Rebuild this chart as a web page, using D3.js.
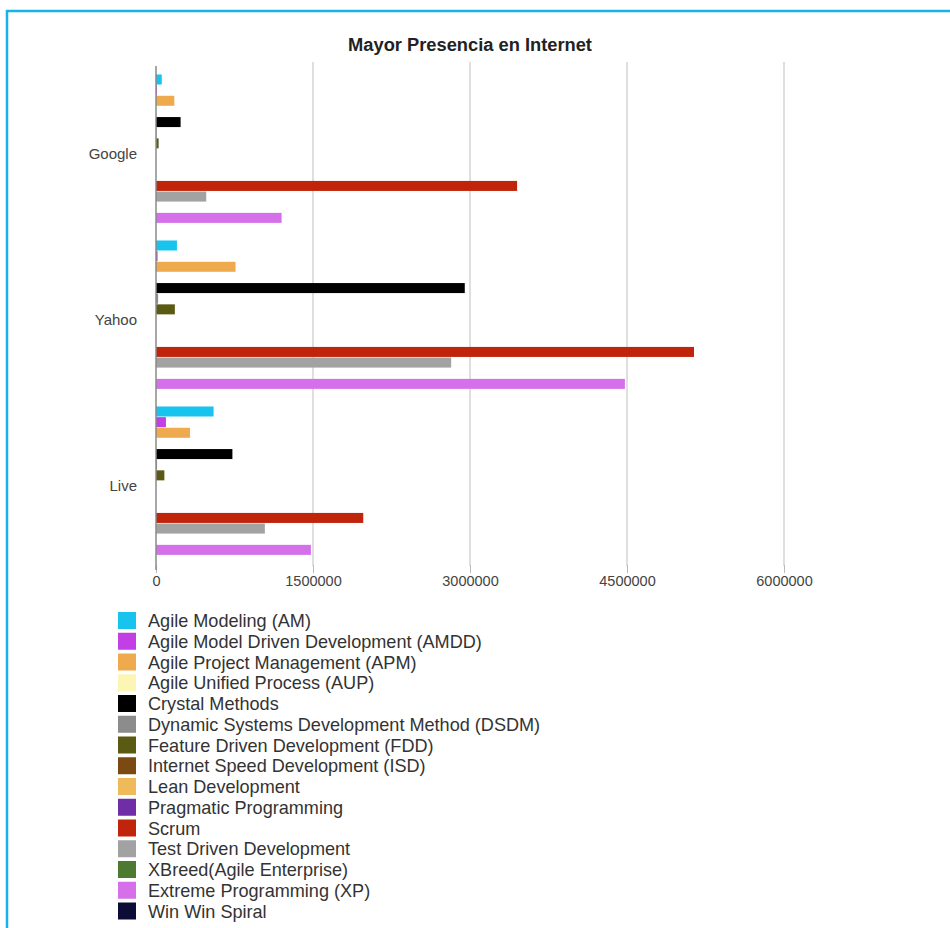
<!DOCTYPE html>
<html><head><meta charset="utf-8">
<script src="https://cdn.jsdelivr.net/npm/d3@7"></script>
<style>body{margin:0;background:#fff}svg{display:block}</style>
</head><body>
<svg id="c" width="950" height="928"></svg>
<script>
const title = "Mayor Presencia en Internet";
const engines = ["Google", "Yahoo", "Live"];
const methods = [
  "Agile Modeling (AM)",
  "Agile Model Driven Development (AMDD)",
  "Agile Project Management (APM)",
  "Agile Unified Process (AUP)",
  "Crystal Methods",
  "Dynamic Systems Development Method (DSDM)",
  "Feature Driven Development (FDD)",
  "Internet Speed Development (ISD)",
  "Lean Development",
  "Pragmatic Programming",
  "Scrum",
  "Test Driven Development",
  "XBreed(Agile Enterprise)",
  "Extreme Programming (XP)",
  "Win Win Spiral"
];
const colors = [
  "#18c4ee", "#c23fe6", "#eeaa4c", "#fbf6b4", "#000000",
  "#8c8c8c", "#5a5a12", "#7a4a12", "#efba5a", "#6f2ea6",
  "#c0250c", "#a2a2a2", "#4b7a30", "#d570ea", "#0c0c36"
];
const googleValues = [55000, 8000, 175000, 0, 235000, 5000, 25000, 0, 0, 0, 3450000, 480000, 0, 1200000, 0];
const yahooValues  = [200000, 15000, 760000, 0, 2950000, 20000, 180000, 0, 0, 0, 5140000, 2820000, 0, 4480000, 0];
const liveValues   = [550000, 95000, 325000, 0, 730000, 10000, 80000, 0, 0, 0, 1980000, 1040000, 0, 1480000, 0];
const xTicks = [0, 1500000, 3000000, 4500000, 6000000];

const valuesByEngine = {Google: googleValues, Yahoo: yahooValues, Live: liveValues};
const font = "'Liberation Sans', Arial, Helvetica, sans-serif";
const svg = d3.select("#c");

// frame
svg.append("rect").attr("x", 7).attr("y", 11).attr("width", 1000).attr("height", 1000)
  .attr("fill", "none").attr("stroke", "#16b2ec").attr("stroke-width", 2.5);

// title
svg.append("text").attr("x", 470).attr("y", 45).attr("dy", "0.35em")
  .attr("text-anchor", "middle").attr("font-family", font).attr("font-weight", "bold")
  .attr("font-size", 18.3).attr("fill", "#222").text(title);

const x = d3.scaleLinear().domain([0, 6000000]).range([156, 784]);
const y0 = d3.scaleBand().domain(engines).range([71, 569]).paddingInner(0.042).paddingOuter(0.021);
const y1 = d3.scaleBand().domain(d3.range(methods.length)).range([0, y0.bandwidth()]).paddingInner(0.06);

// gridlines
svg.append("g").selectAll("line").data(xTicks.slice(1)).join("line")
  .attr("x1", d => x(d)).attr("x2", d => x(d)).attr("y1", 62).attr("y2", 566)
  .attr("stroke", "#d4d4d4").attr("stroke-width", 1.5);

// bottom axis
const xAxis = d3.axisBottom(x).tickValues(xTicks).tickFormat(d3.format("d")).tickSize(8).tickPadding(3);
const gx = svg.append("g").attr("transform", "translate(0,565)").call(xAxis);
gx.select(".domain").remove();
gx.selectAll(".tick line").attr("stroke", "#bbb");
gx.selectAll(".tick text").attr("font-family", font).attr("font-size", 14.5).attr("fill", "#444");

// bars
const groups = svg.append("g").selectAll("g").data(engines).join("g")
  .attr("transform", d => `translate(0,${y0(d)})`);
groups.selectAll("rect").data(e => valuesByEngine[e].map((v, i) => ({v, i}))).join("rect")
  .attr("x", x(0))
  .attr("y", d => y1(d.i))
  .attr("width", d => x(d.v) - x(0))
  .attr("height", y1.bandwidth())
  .attr("fill", d => colors[d.i]);

// y axis line
svg.append("line").attr("x1", x(0)).attr("x2", x(0)).attr("y1", 66).attr("y2", 570)
  .attr("stroke", "#8a8a8a").attr("stroke-width", 1.5);

// category labels
svg.append("g").selectAll("text").data(engines).join("text")
  .attr("x", 137).attr("y", d => y0(d) + y0.bandwidth() / 2).attr("dy", "0.35em")
  .attr("text-anchor", "end").attr("font-family", font).attr("font-size", 15)
  .attr("fill", "#444").text(d => d);

// legend
const legend = svg.append("g").selectAll("g").data(methods).join("g")
  .attr("transform", (d, i) => `translate(0,${620.5 + i * 20.75})`);
legend.append("rect").attr("x", 118).attr("y", -8.5).attr("width", 18).attr("height", 17)
  .attr("fill", (d, i) => colors[i]);
legend.append("text").attr("x", 148).attr("dy", "0.36em").attr("font-family", font)
  .attr("font-size", 18.1).attr("fill", "#333").text(d => d);
</script>
</body></html>
